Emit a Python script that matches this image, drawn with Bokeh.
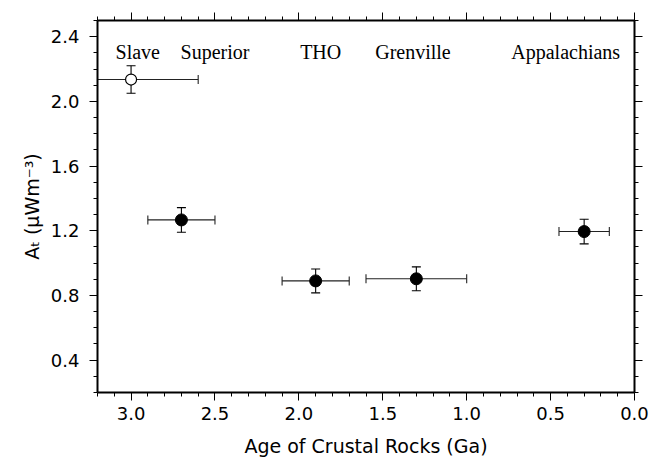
import math
from bokeh.plotting import figure
from bokeh.models import Range1d, LinearAxis, FixedTicker, CustomJSTickFormatter, PrintfTickFormatter
from bokeh.core.properties import value
from bokeh.embed import file_html
from bokeh.resources import INLINE

# ---- data ----
regions = ["Slave", "Superior", "THO", "Grenville", "Appalachians"]
age = [3.0, 2.7, 1.9, 1.3, 0.3]            # Ga
age_err = [0.4, 0.2, 0.2, 0.3, 0.15]
at = [2.135, 1.267, 0.89, 0.903, 1.195]    # A_t (uW m^-3)
at_err = [0.085, 0.076, 0.074, 0.074, 0.076]
filled = [False, True, True, True, True]
label_age = [2.96, 2.5, 1.87, 1.32, 0.41]
label_at = [2.308, 2.308, 2.308, 2.308, 2.308]

x_ticks = [0.0, 0.5, 1.0, 1.5, 2.0, 2.5, 3.0]
x_minor = [0.0, 0.1, 0.2, 0.3, 0.4, 0.5, 0.6, 0.7, 0.8, 0.9, 1.0, 1.1, 1.2, 1.3, 1.4, 1.5,
           1.6, 1.7, 1.8, 1.9, 2.0, 2.1, 2.2, 2.3, 2.4, 2.5, 2.6, 2.7, 2.8, 2.9, 3.0, 3.1, 3.2]
y_ticks = [0.4, 0.8, 1.2, 1.6, 2.0, 2.4]
y_minor = [0.2, 0.3, 0.4, 0.5, 0.6, 0.7, 0.8, 0.9, 1.0, 1.1, 1.2, 1.3, 1.4, 1.5, 1.6, 1.7,
           1.8, 1.9, 2.0, 2.1, 2.2, 2.3, 2.4, 2.5]

SANS = "DejaVu Sans"
SERIF = "Liberation Serif"

p = figure(width=650, height=466,
           x_range=Range1d(3.2, 0.0), y_range=Range1d(0.2, 2.5),
           output_backend="svg", toolbar_location=None,
           min_border_left=97, min_border_right=16, min_border_top=20, min_border_bottom=74)
p.xgrid.grid_line_color = None
p.ygrid.grid_line_color = None
p.outline_line_color = None
p.background_fill_color = "white"
p.border_fill_color = "white"

def style_axis(ax):
    ax.axis_line_width = 2
    ax.axis_line_color = "black"
    ax.major_tick_line_color = "black"
    ax.minor_tick_line_color = "black"
    ax.major_tick_line_width = 1
    ax.minor_tick_line_width = 1
    ax.major_tick_out = 8
    ax.major_tick_in = 0
    ax.minor_tick_out = 4
    ax.minor_tick_in = 0

xt = FixedTicker(ticks=x_ticks, minor_ticks=x_minor)
yt = FixedTicker(ticks=y_ticks, minor_ticks=y_minor)

xa = p.xaxis[0]
xa.ticker = xt
xa.formatter = PrintfTickFormatter(format="%.1f")
style_axis(xa)
xa.major_label_text_font = SANS
xa.major_label_text_font_size = "18px"
xa.major_label_text_color = "black"
xa.major_label_standoff = 6
xa.axis_label = "Age of Crustal Rocks (Ga)"
xa.axis_label_text_font = SANS
xa.axis_label_text_font_size = "19px"
xa.axis_label_text_font_style = "normal"
xa.axis_label_text_color = "black"
xa.axis_label_standoff = 12

ya = p.yaxis[0]
ya.ticker = yt
ya.formatter = PrintfTickFormatter(format="%.1f")
style_axis(ya)
ya.major_label_text_font = SANS
ya.major_label_text_font_size = "18px"
ya.major_label_text_color = "black"
ya.major_label_standoff = 10
ya.axis_label = "A\u209c (\u03bcWm\u207b\u00b3)"
ya.axis_label_text_font = SANS
ya.axis_label_text_font_size = "19px"
ya.axis_label_text_font_style = "normal"
ya.axis_label_text_color = "black"
ya.axis_label_standoff = 5

blank = CustomJSTickFormatter(code="return ''")
top = LinearAxis(ticker=xt, formatter=blank, major_label_text_font_size="0px", major_label_standoff=0)
style_axis(top)
p.add_layout(top, "above")
right = LinearAxis(ticker=yt, formatter=blank, major_label_text_font_size="0px", major_label_standoff=0)
style_axis(right)
p.add_layout(right, "right")

# ---- error bars ----
x_lo = [a - e for a, e in zip(age, age_err)]
x_hi = [a + e for a, e in zip(age, age_err)]
y_lo = [v - e for v, e in zip(at, at_err)]
y_hi = [v + e for v, e in zip(at, at_err)]

bar_col = "#222222"
p.segment(x0=x_lo, y0=at, x1=x_hi, y1=at, line_color=bar_col, line_width=1.1)
p.segment(x0=age, y0=y_lo, x1=age, y1=y_hi, line_color="black", line_width=1.1)
p.scatter(x=x_lo + x_hi, y=at + at, marker="dash", size=9, angle=math.pi / 2,
          line_color=bar_col, line_width=1.1)
p.scatter(x=age + age, y=y_lo + y_hi, marker="dash", size=9,
          line_color="black", line_width=1.1)

# ---- points ----
fx = [a for a, f in zip(age, filled) if f]
fy = [v for v, f in zip(at, filled) if f]
ox = [a for a, f in zip(age, filled) if not f]
oy = [v for v, f in zip(at, filled) if not f]
p.scatter(x=fx, y=fy, marker="circle", size=12, fill_color="black", line_color="black")
p.scatter(x=ox, y=oy, marker="circle", size=11, fill_color="white", line_color="black", line_width=1.2)

# ---- region labels ----
p.text(x=label_age, y=label_at, text=regions, text_font=value(SERIF), text_font_size="20px",
       text_align="center", text_baseline="alphabetic", text_color="black")

open("out.html", "w").write(file_html(p, INLINE))
